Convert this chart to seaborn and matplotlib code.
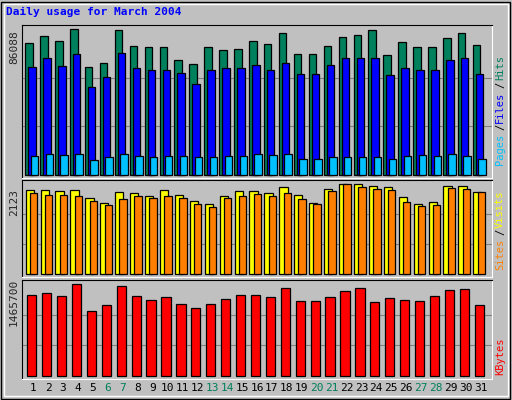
import numpy as np
import matplotlib
matplotlib.use("Agg")
import matplotlib.pyplot as plt
import seaborn as sns

days = list(range(1, 32))
weekends = [6, 7, 13, 14, 20, 21, 27, 28]

hits = [77900, 82000, 79060, 86088, 63830, 66170, 85500, 76130, 75540, 75540, 67930,
        65590, 75540, 73790, 74370, 79060, 77300, 83740, 71440, 71440, 76130, 81400,
        82570, 85500, 70860, 78470, 75540, 75540, 80810, 83740, 76710]
files = [63830, 69100, 64420, 71440, 52120, 57970, 72030, 63240, 62070, 62070, 60320,
         53880, 62070, 63240, 63240, 65000, 62070, 66170, 59730, 59730, 65000, 69100,
         69100, 69100, 59150, 63240, 62070, 62070, 67930, 69100, 59730]
pages = [11130, 12300, 11710, 12300, 8780, 10540, 12300, 11130, 10540, 11130, 11130,
         10540, 10540, 11130, 11130, 12300, 11710, 12300, 9370, 9370, 10540, 10540,
         10540, 10540, 9370, 11130, 11710, 11130, 12300, 11130, 9370]
visits = [1983, 1983, 1960, 1983, 1796, 1680, 1936, 1913, 1843, 1983, 1866,
          1726, 1656, 1843, 1960, 1960, 1913, 2053, 1866, 1680, 2006, 2123,
          2123, 2076, 2053, 1820, 1656, 1703, 2076, 2076, 1936]
sites = [1913, 1866, 1866, 1843, 1726, 1633, 1773, 1843, 1796, 1843, 1796,
         1656, 1586, 1796, 1843, 1890, 1843, 1913, 1773, 1656, 1960, 2123,
         2053, 2006, 1983, 1703, 1610, 1633, 2030, 2006, 1936]
kbytes = [1295300, 1329400, 1278200, 1465700, 1039600, 1124800, 1431600, 1278200,
          1210100, 1261200, 1141900, 1090800, 1141900, 1227100, 1295300, 1295300,
          1261200, 1397500, 1193000, 1193000, 1261200, 1346400, 1397500, 1176000,
          1244100, 1210100, 1193000, 1278200, 1363400, 1380500, 1124800]

GRAY = "#C0C0C0"
MONO = "DejaVu Sans Mono"
W, H = 512, 400

sns.set_style("white")
plt.rcParams["font.family"] = MONO

fig = plt.figure(figsize=(5.12, 4.0), dpi=100, facecolor=GRAY)
fig.patches.append(plt.Rectangle((1 / W, 1 / H), 1 - 3 / W, 1 - 3 / H, transform=fig.transFigure,
                                 fill=False, ec="black", lw=1))
fig.patches.append(plt.Rectangle((4 / W, 4 / H), 1 - 8 / W, 1 - 8 / H, transform=fig.transFigure,
                                 fill=False, ec="white", lw=1))


def panel(top, bottom, series, maxval, label):
    ax = fig.add_axes([22 / W, 1 - bottom / H, 470 / W, (bottom - top) / H])
    ax.set_facecolor(GRAY)
    height = bottom - top
    # bars start 3px above bottom, max 4px below top
    unit = maxval / (height - 7)
    ax.set_ylim(-3 * unit, maxval + 4 * unit)
    ax.set_xlim(0.25, 31.75)
    for g in (1 / 3, 2 / 3):
        ax.axhline(maxval * g, color="#808080", lw=0.8, zorder=0)
    x = np.array(days, dtype=float)
    for vals, off, wid, col in series:
        sns.barplot(x=x + off, y=vals, native_scale=True, width=wid, color=col,
                    edgecolor="black", linewidth=0.9, saturation=1, ax=ax, zorder=2)
    ax.set_xticks([])
    ax.set_yticks([])
    ax.set_xlabel("")
    ax.set_ylabel("")
    for s in ("top", "left"):
        ax.spines[s].set_color("black")
    for s in ("bottom", "right"):
        ax.spines[s].set_color("white")
    fig.text(14 / W, 1 - (top + 22) / H, label, rotation=90, ha="center", va="center",
             fontsize=8)
    return ax


panel(25, 178, [(hits, -0.28, 0.5, "#00805C"), (files, -0.08, 0.5, "#0000FF"),
                (pages, 0.08, 0.5, "#00C0FF")], 86088, "86088")
panel(180, 277, [(visits, -0.23, 0.55, "#FFFF00"), (sites, 0.03, 0.5, "#FF8000")],
      2123, "2123")
panel(280, 379, [(kbytes, -0.1, 0.62, "#FF0000")], 1465700, "1465700")

# day labels
for d in days:
    px = 22 + (d - 0.25) / 31.5 * 470
    fig.text(px / W, 1 - 388 / H, str(d), ha="center", va="center", fontsize=8,
             color="#00805C" if d in weekends else "black")

# right side legends (rotated, bottom to top)
def legend(parts, ybottom):
    y = ybottom
    for txt, col in parts:
        fig.text(500 / W, 1 - y / H, txt, rotation=90, ha="center", va="bottom",
                 fontsize=7.5, color=col)
        y -= len(txt) * 6.9 + 0.5


legend([("Pages", "#00C0FF"), ("/", "black"), ("Files", "#0000FF"), ("/", "black"),
        ("Hits", "#00805C")], 165)
legend([("Sites", "#FF8000"), ("/", "black"), ("Visits", "#FFFF00")], 270)
legend([("KBytes", "#FF0000")], 375)

fig.text(6 / W, 1 - 12 / H, "Daily usage for March 2004", color="#0000FF",
         fontsize=8, fontweight="bold", va="center")

fig.savefig("out.png", dpi=100, facecolor=GRAY)
